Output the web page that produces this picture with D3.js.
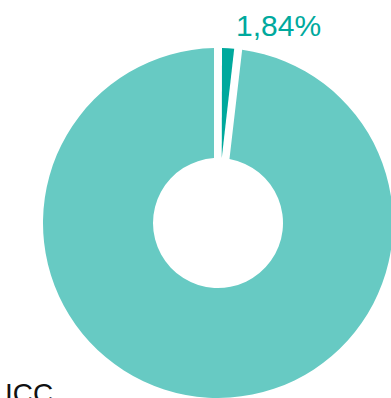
<!DOCTYPE html>
<html>
<head>
<meta charset="utf-8">
<script src="https://cdn.jsdelivr.net/npm/d3@7"></script>
<style>
  html, body { margin: 0; padding: 0; background: #fff; overflow: hidden; }
  svg { display: block; }
</style>
</head>
<body>
<svg id="chart" width="391" height="398"></svg>
<script>
const categories = ["ICC", "Other"];
const values = [1.84, 98.16];
const colors = ["#00a99d", "#67cac3"];
const labelText = "1,84%";
const titleText = "ICC";

const W = 391, H = 398;
const cx = 218, cy = 223;
const outerR = 175, innerR = 65;

const svg = d3.select("#chart");

const pie = d3.pie().sort(null).value(d => d.v).startAngle(0).endAngle(2 * Math.PI);
const arcs = pie(categories.map((c, i) => ({ c, v: values[i] })));

const arc = d3.arc()
  .innerRadius(innerR)
  .outerRadius(outerR)
  .padAngle(0.043);

const color = d3.scaleOrdinal().domain(categories).range(colors);

const g = svg.append("g").attr("transform", `translate(${cx},${cy})`);
g.selectAll("path")
  .data(arcs)
  .join("path")
  .attr("d", arc)
  .attr("fill", d => color(d.data.c));

svg.append("text")
  .attr("x", 236)
  .attr("y", 36)
  .attr("font-family", "'Liberation Sans', Arial, Helvetica, sans-serif")
  .attr("font-size", 30)
  .attr("fill", colors[0])
  .text(labelText);

svg.append("text")
  .attr("x", 5)
  .attr("y", 403)
  .attr("font-family", "'Liberation Sans', Arial, Helvetica, sans-serif")
  .attr("font-size", 28)
  .attr("fill", "#111")
  .text(titleText);
</script>
</body>
</html>
